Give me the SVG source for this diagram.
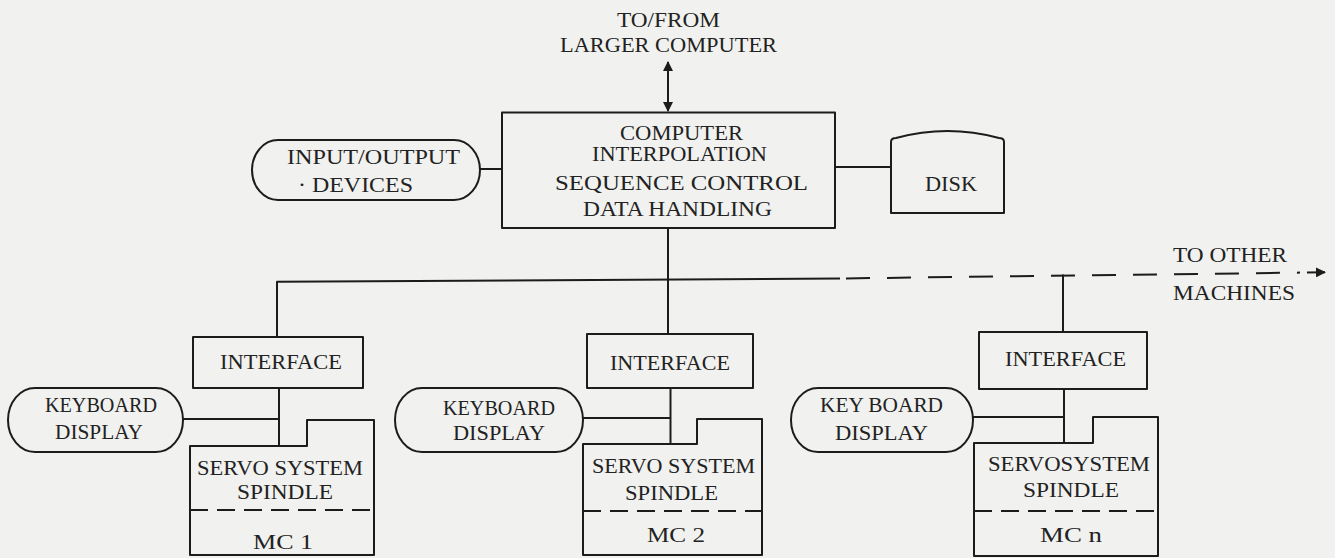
<svg xmlns="http://www.w3.org/2000/svg" width="1335" height="558" viewBox="0 0 1335 558">
<defs>
<style>
.bg{fill:#f1f1ef}
.s{fill:none;stroke:#1c1c1c;stroke-width:2;stroke-linejoin:round}
.b{fill:#f1f1ef;stroke:#1c1c1c;stroke-width:2;stroke-linejoin:round}
.d{fill:none;stroke:#1c1c1c;stroke-width:2;stroke-dasharray:18 9}
.bd{fill:none;stroke:#1c1c1c;stroke-width:2;stroke-dasharray:24 17}
text{font-family:"Liberation Serif","DejaVu Serif",serif;font-size:20px;fill:#222;text-anchor:middle}
</style>
<marker id="ah" viewBox="0 0 10 10" refX="9" refY="5" markerWidth="5" markerHeight="5" orient="auto-start-reverse">
<path d="M0,0 L10,5 L0,10 Z" fill="#1c1c1c"/>
</marker>
</defs>
<rect class="bg" x="0" y="0" width="1335" height="558"/>

<g id="connectors">
<line class="s" x1="668" y1="62" x2="668" y2="111" marker-start="url(#ah)" marker-end="url(#ah)"/>
<line class="s" x1="480" y1="169" x2="502" y2="169"/>
<line class="s" x1="835" y1="167" x2="891" y2="167"/>
<line class="s" x1="668" y1="228" x2="668" y2="334"/>
<path class="s" d="M277,337 V281.7 L840,278.5"/>
<line class="bd" x1="846" y1="278.4" x2="1300" y2="272.6"/>
<line class="s" x1="1307" y1="272.5" x2="1325" y2="272.3" marker-end="url(#ah)"/>
<line class="s" x1="1063" y1="274.5" x2="1063" y2="332"/>
<line class="s" x1="279" y1="388" x2="279" y2="446"/>
<line class="s" x1="670.5" y1="388" x2="670.5" y2="444"/>
<line class="s" x1="1064" y1="389" x2="1064" y2="443"/>
<line class="s" x1="183" y1="419" x2="279" y2="419"/>
<line class="s" x1="583" y1="418" x2="670.5" y2="418"/>
<line class="s" x1="973" y1="417" x2="1064" y2="417"/>
</g>

<g id="labels-top">
<text x="668.5" y="27" textLength="103" lengthAdjust="spacingAndGlyphs">TO/FROM</text>
<text x="668.5" y="52" textLength="217" lengthAdjust="spacingAndGlyphs">LARGER COMPUTER</text>
</g>

<g id="computer">
<rect class="b" x="502" y="112.5" width="333" height="115.5"/>
<text x="681.5" y="140" textLength="123" lengthAdjust="spacingAndGlyphs">COMPUTER</text>
<text x="679.5" y="161" textLength="175" lengthAdjust="spacingAndGlyphs">INTERPOLATION</text>
<text x="681.5" y="190" textLength="253" lengthAdjust="spacingAndGlyphs">SEQUENCE  CONTROL</text>
<text x="677.5" y="216" textLength="189" lengthAdjust="spacingAndGlyphs">DATA  HANDLING</text>
</g>

<g id="io-devices">
<rect class="b" x="252" y="140" width="228" height="60" rx="26" ry="30"/>
<text x="373.5" y="164" textLength="173" lengthAdjust="spacingAndGlyphs">INPUT/OUTPUT</text>
<text x="355.5" y="192" textLength="115" lengthAdjust="spacingAndGlyphs">· DEVICES</text>
</g>

<g id="disk">
<path class="b" d="M891,213 V142 Q891,138 896,138 Q947.5,124 999,138 Q1004,138 1004,142 V213 Z"/>
<text x="951" y="190.5" textLength="52" lengthAdjust="spacingAndGlyphs">DISK</text>
</g>

<g id="other-machines">
<text x="1230" y="262" textLength="114" lengthAdjust="spacingAndGlyphs">TO OTHER</text>
<text x="1234" y="300" textLength="122" lengthAdjust="spacingAndGlyphs">MACHINES</text>
</g>

<g id="interface-1">
<rect class="b" x="193" y="337" width="170" height="51"/>
<text x="281" y="369" textLength="122" lengthAdjust="spacingAndGlyphs">INTERFACE</text>
</g>
<g id="interface-2">
<rect class="b" x="587" y="334" width="166" height="54"/>
<text x="670" y="370" textLength="120" lengthAdjust="spacingAndGlyphs">INTERFACE</text>
</g>
<g id="interface-3">
<rect class="b" x="979" y="332" width="168" height="57"/>
<text x="1065.5" y="366" textLength="121" lengthAdjust="spacingAndGlyphs">INTERFACE</text>
</g>

<g id="keyboard-1">
<rect class="b" x="8" y="388" width="175" height="64" rx="27" ry="32"/>
<text x="101" y="412" textLength="112" lengthAdjust="spacingAndGlyphs">KEYBOARD</text>
<text x="99" y="439" textLength="88" lengthAdjust="spacingAndGlyphs">DISPLAY</text>
</g>
<g id="keyboard-2">
<rect class="b" x="395" y="388" width="188" height="64" rx="27" ry="32"/>
<text x="499" y="415" textLength="112" lengthAdjust="spacingAndGlyphs">KEYBOARD</text>
<text x="499" y="440" textLength="92" lengthAdjust="spacingAndGlyphs">DISPLAY</text>
</g>
<g id="keyboard-3">
<rect class="b" x="791" y="388" width="182" height="64" rx="27" ry="32"/>
<text x="881.5" y="412" textLength="123" lengthAdjust="spacingAndGlyphs">KEY BOARD</text>
<text x="881.5" y="440" textLength="93" lengthAdjust="spacingAndGlyphs">DISPLAY</text>
</g>

<g id="machine-1">
<path class="b" d="M190,555 V446 H307 V420 H374 V555 Z"/>
<line class="d" x1="190" y1="510" x2="374" y2="510"/>
<text x="280" y="475" textLength="166" lengthAdjust="spacingAndGlyphs">SERVO SYSTEM</text>
<text x="285" y="499" textLength="96" lengthAdjust="spacingAndGlyphs">SPINDLE</text>
<text x="283" y="549" textLength="60" lengthAdjust="spacingAndGlyphs">MC  1</text>
</g>
<g id="machine-2">
<path class="b" d="M583,555 V444 H697 V419 H762 V555 Z"/>
<line class="d" x1="583" y1="511" x2="762" y2="511"/>
<text x="673.5" y="473" textLength="163" lengthAdjust="spacingAndGlyphs">SERVO SYSTEM</text>
<text x="671.5" y="500" textLength="93" lengthAdjust="spacingAndGlyphs">SPINDLE</text>
<text x="676" y="542" textLength="58" lengthAdjust="spacingAndGlyphs">MC  2</text>
</g>
<g id="machine-n">
<path class="b" d="M974,556 V443 H1093 V417 H1158 V556 Z"/>
<line class="d" x1="974" y1="511" x2="1158" y2="511"/>
<text x="1069" y="471" textLength="162" lengthAdjust="spacingAndGlyphs">SERVOSYSTEM</text>
<text x="1071" y="497" textLength="96" lengthAdjust="spacingAndGlyphs">SPINDLE</text>
<text x="1071" y="542" textLength="62" lengthAdjust="spacingAndGlyphs">MC  n</text>
</g>
</svg>
